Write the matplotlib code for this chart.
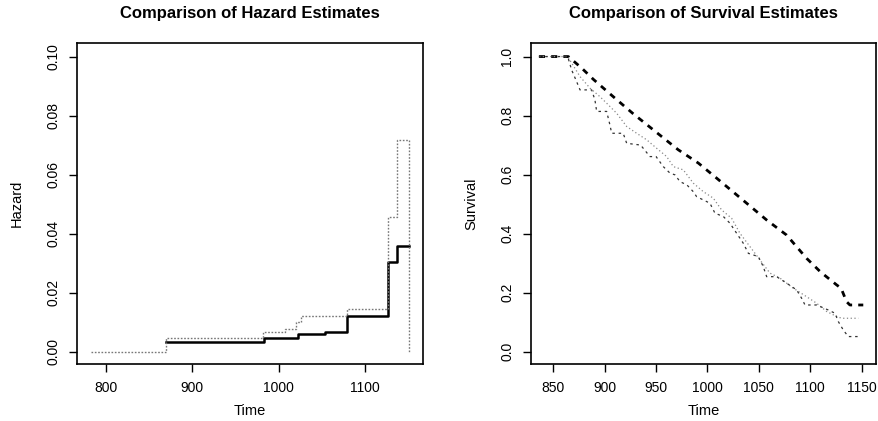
import matplotlib
matplotlib.use("Agg")
import matplotlib.pyplot as plt

plt.rcParams["font.family"] = ["Liberation Sans", "DejaVu Sans"]

# hazard estimates (step functions, value holds until next time)
haz_solid_t = [869, 983, 1022, 1053, 1079, 1127, 1137, 1151]
haz_solid_h = [0.0034, 0.0045, 0.0061, 0.0066, 0.0119, 0.0303, 0.0358, 0.0358]

haz_dot_t = [783, 869, 982, 1007, 1020, 1026, 1079, 1127, 1137, 1151]
haz_dot_h = [0.0, 0.0045, 0.0066, 0.0078, 0.0102, 0.0122, 0.0144, 0.0455, 0.0718, 0.0]

# survival estimates
surv_model_t = [836, 864.6, 877.6, 888.9, 897.1, 910, 921.4, 927.8, 955.4, 971.6,
                991.1, 1008.9, 1038.1, 1057.6, 1077, 1096.5, 1110, 1125.7, 1130,
                1135.4, 1138.6, 1151.6]
surv_model_s = [1.0, 1.0, 0.961, 0.923, 0.898, 0.859, 0.825, 0.806, 0.729, 0.684,
                0.639, 0.588, 0.503, 0.446, 0.395, 0.316, 0.27, 0.226, 0.215,
                0.169, 0.158, 0.158]

surv_mid_t = [836, 864, 876, 885.7, 895.4, 901.9, 911.6, 921.4, 931.1, 940.8, 950.6,
              960.3, 966.8, 976.5, 986.2, 996, 1005.7, 1013.8, 1023.5, 1031.6,
              1041.3, 1051, 1060.8, 1070.6, 1083.5, 1096.5, 1106.2, 1116, 1125.7,
              1130.6, 1146.8]
surv_mid_s = [1.0, 1.0, 0.932, 0.893, 0.864, 0.842, 0.808, 0.763, 0.74, 0.718, 0.689,
              0.661, 0.627, 0.616, 0.571, 0.542, 0.52, 0.48, 0.452, 0.401,
              0.356, 0.311, 0.266, 0.249, 0.215, 0.186, 0.164, 0.136, 0.119,
              0.113, 0.113]

surv_km_t = [836, 864, 867.8, 872.7, 876, 887.3, 890.5, 892.2, 901.9, 905.1, 906.8,
             918, 921.4, 935, 944, 950, 957, 963.5, 968.4, 973.3, 980, 986.2,
             989.5, 996, 1002.4, 1007.3, 1015.4, 1021.9, 1028.4, 1034.9, 1039.8,
             1049.5, 1054.3, 1057.6, 1067.3, 1077, 1086.8, 1091.6, 1094.9,
             1106.2, 1117.6, 1124.1, 1127.3, 1132.2, 1137, 1146.8]
surv_km_s = [1.0, 1.0, 0.955, 0.915, 0.887, 0.887, 0.853, 0.814, 0.814, 0.768, 0.74,
             0.74, 0.706, 0.7, 0.661, 0.661, 0.627, 0.605, 0.599, 0.576, 0.565, 0.542,
             0.525, 0.514, 0.503, 0.469, 0.458, 0.435, 0.401, 0.367, 0.333,
             0.322, 0.288, 0.254, 0.254, 0.232, 0.209, 0.181, 0.158,
             0.158, 0.141, 0.13, 0.102, 0.073, 0.051, 0.051]

fig = plt.figure(figsize=(8.79, 4.21), dpi=100)
ax1 = fig.add_axes([0.0876, 0.1354, 0.3936, 0.7625])
ax2 = fig.add_axes([0.6041, 0.1354, 0.3925, 0.7625])

ax1.step(haz_solid_t, haz_solid_h, where="post", color="black", lw=1.8)
ax1.step(haz_dot_t, haz_dot_h, where="post", color="#777777", lw=1.0,
         linestyle=(0, (1.2, 1.2)))
ax1.set_xlim(766.4, 1167)
ax1.set_ylim(-0.0042, 0.1046)
ax1.set_xticks([800, 900, 1000, 1100])
ax1.set_yticks([0.0, 0.02, 0.04, 0.06, 0.08, 0.10])
ax1.set_yticklabels(["0.00", "0.02", "0.04", "0.06", "0.08", "0.10"])
ax1.set_xlabel("Time")
ax1.set_ylabel("Hazard")
ax1.set_title("Comparison of Hazard Estimates", fontweight="bold",
              fontsize=12, pad=18)

ax2.plot(surv_model_t, surv_model_s, color="black", lw=2.0,
         linestyle=(0, (2.2, 2.2)))
ax2.plot(surv_mid_t, surv_mid_s, color="#888888", lw=0.9,
         linestyle=(0, (1, 2)))
ax2.plot(surv_km_t, surv_km_s, color="#333333", lw=0.9,
         linestyle=(0, (2, 3)))
ax2.set_xlim(828.3, 1164)
ax2.set_ylim(-0.042, 1.046)
ax2.set_xticks([850, 900, 950, 1000, 1050, 1100, 1150])
ax2.set_yticks([0.0, 0.2, 0.4, 0.6, 0.8, 1.0])
ax2.set_yticklabels(["0.0", "0.2", "0.4", "0.6", "0.8", "1.0"])
ax2.set_xlabel("Time")
ax2.set_ylabel("Survival")
ax2.set_title("Comparison of Survival Estimates", fontweight="bold",
              fontsize=12, pad=18)

for ax in (ax1, ax2):
    for sp in ax.spines.values():
        sp.set_linewidth(1.2)
    ax.tick_params(direction="out", length=6, width=1, labelsize=10, pad=6)
    for lab in ax.get_yticklabels():
        lab.set_rotation(90)
        lab.set_va("center")
    ax.xaxis.label.set_size(10.5)
    ax.yaxis.label.set_size(10.5)
    ax.xaxis.labelpad = 7
    ax.yaxis.labelpad = 16

fig.savefig("out.png", dpi=100)
